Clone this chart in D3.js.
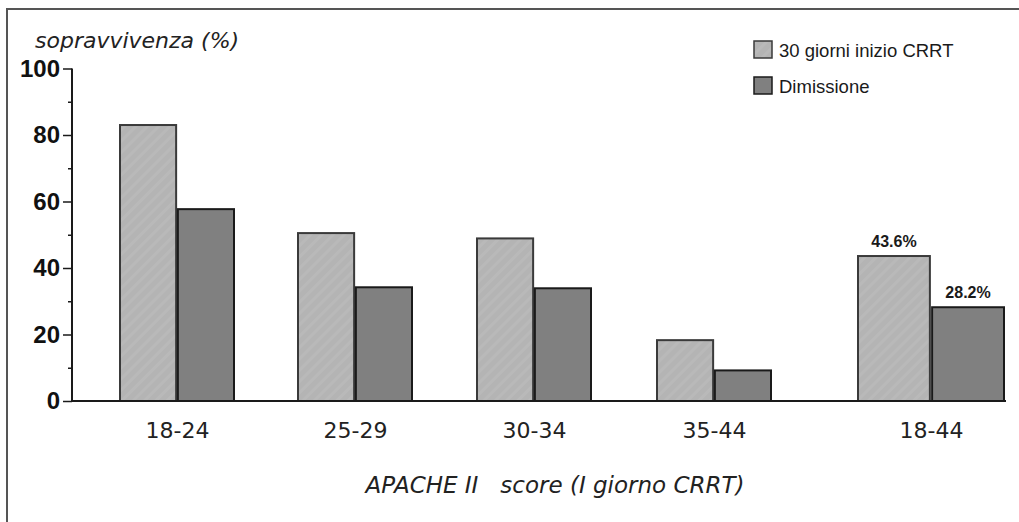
<!DOCTYPE html>
<html>
<head>
<meta charset="utf-8">
<script src="https://cdn.jsdelivr.net/npm/d3@7"></script>
<style>
  body { margin: 0; background: #fff; }
</style>
</head>
<body>
<svg id="chart"></svg>
<script>
// values
const categories = ["18-24", "25-29", "30-34", "35-44", "18-44"];
const seriesNames = ["30 giorni inizio CRRT", "Dimissione"];
const giorni30 = [83.0, 50.5, 48.9, 18.3, 43.6];
const dimissione = [57.7, 34.2, 33.9, 9.2, 28.2];
const yTicks = [0, 20, 40, 60, 80, 100];
const yMinorTicks = [10, 30, 50, 70, 90];
const labelledCategory = "18-44";

class SurvivalBarChart {

  constructor(_config, _data) {
    this.config = {
      parentElement: _config.parentElement,
      containerWidth: _config.containerWidth || 1019,
      containerHeight: _config.containerHeight || 522
    }
    this.data = _data;
    this.initVis();
  }

  initVis() {
    let vis = this;

    vis.svg = d3.select(vis.config.parentElement)
        .attr('width', vis.config.containerWidth)
        .attr('height', vis.config.containerHeight);

    // faint diagonal hatch on the light bars
    let pat = vis.svg.append('defs').append('pattern')
        .attr('id', 'hatch')
        .attr('patternUnits', 'userSpaceOnUse')
        .attr('width', 8).attr('height', 8)
        .attr('patternTransform', 'rotate(45)');
    pat.append('rect').attr('width', 8).attr('height', 8).attr('fill', '#b4b4b4');
    pat.append('rect').attr('width', 3).attr('height', 8).attr('fill', '#b9b9b9');

    // frame (only top and left edges are visible in the picture)
    vis.svg.append('rect')
        .attr('x', 7).attr('y', 9)
        .attr('width', 1030).attr('height', 530)
        .attr('fill', 'none')
        .attr('stroke', '#555')
        .attr('stroke-width', 2);

    vis.yScale = d3.scaleLinear()
        .domain([0, 100])
        .range([401, 68.5]);

    // group centres: first four evenly spaced, the total group set apart
    vis.xScale = d3.scaleOrdinal()
        .domain(categories)
        .range([177, 355, 534, 714, 931]);

    vis.groupWidth = d3.scaleOrdinal()
        .domain(categories)
        .range([114, 114, 114, 114, 146]);

    vis.colorScale = d3.scaleOrdinal()
        .domain(seriesNames)
        .range(['url(#hatch)', '#808080']);

    vis.strokeScale = d3.scaleOrdinal()
        .domain(seriesNames)
        .range(['#3a3a3a', '#1a1a1a']);

    vis.yAxis = d3.axisLeft(vis.yScale)
        .tickValues(yTicks)
        .tickSize(9)
        .tickPadding(3);

    vis.yMinorAxis = d3.axisLeft(vis.yScale)
        .tickValues(yMinorTicks)
        .tickSize(4)
        .tickFormat('');

    vis.xAxis = d3.axisBottom(vis.xScale)
        .tickSize(0)
        .tickPadding(21);

    vis.marks = vis.svg.append('g');
    vis.xAxisG = vis.svg.append('g').attr('class', 'axis x-axis')
        .attr('transform', `translate(0,${vis.yScale(0)})`);
    vis.yAxisG = vis.svg.append('g').attr('class', 'axis y-axis')
        .attr('transform', 'translate(72,0)');
    vis.yMinorG = vis.svg.append('g').attr('class', 'axis y-minor')
        .attr('transform', 'translate(72,0)');
  }

  updateVis() {
    let vis = this;
    vis.inner = d => d3.scaleBand()
        .domain(seriesNames)
        .range([vis.xScale(d) - vis.groupWidth(d) / 2, vis.xScale(d) + vis.groupWidth(d) / 2])
        .paddingInner(0.03);
    vis.renderVis();
  }

  renderVis() {
    let vis = this;

    let groups = vis.marks.selectAll('.group')
        .data(vis.data)
        .join('g')
        .attr('class', 'group');

    groups.selectAll('rect')
        .data(d => seriesNames.map((s, i) => ({cat: d.cat, series: s, value: d.values[i]})))
        .join('rect')
        .attr('x', d => vis.inner(d.cat)(d.series))
        .attr('width', d => vis.inner(d.cat).bandwidth())
        .attr('y', d => vis.yScale(d.value))
        .attr('height', d => vis.yScale(0) - vis.yScale(d.value))
        .attr('fill', d => vis.colorScale(d.series))
        .attr('stroke', d => vis.strokeScale(d.series))
        .attr('stroke-width', 2);

    // percentage labels on the overall group
    vis.marks.selectAll('.value-label')
        .data(vis.data.filter(d => d.cat === labelledCategory)
          .flatMap(d => seriesNames.map((s, i) => ({cat: d.cat, series: s, value: d.values[i]}))))
        .join('text')
        .attr('class', 'value-label')
        .attr('x', d => vis.inner(d.cat)(d.series) + vis.inner(d.cat).bandwidth() / 2)
        .attr('y', d => vis.yScale(d.value) - 9)
        .attr('text-anchor', 'middle')
        .attr('font-family', '"Liberation Sans", Arial, sans-serif')
        .attr('font-weight', 'bold')
        .attr('font-size', 16)
        .attr('fill', '#1a1a1a')
        .text(d => d.value.toFixed(1) + '%');

    // axes
    vis.xAxisG.call(vis.xAxis);
    vis.xAxisG.select('.domain').remove();
    vis.xAxisG.selectAll('text')
        .style('font-family', '"DejaVu Sans", Verdana, sans-serif')
        .style('font-size', '22px')
        .attr('fill', '#222');

    vis.svg.append('line')
        .attr('x1', 72).attr('x2', 1006)
        .attr('y1', vis.yScale(0)).attr('y2', vis.yScale(0))
        .attr('stroke', '#1a1a1a')
        .attr('stroke-width', 2);

    vis.yAxisG.call(vis.yAxis);
    vis.yAxisG.select('.domain').attr('stroke', '#1a1a1a').attr('stroke-width', 2)
        .attr('d', `M0,${vis.yScale(100)}V${vis.yScale(0)}`);
    vis.yAxisG.selectAll('.tick line').attr('stroke', '#1a1a1a').attr('stroke-width', 1.5);
    vis.yAxisG.selectAll('text')
        .style('font-family', '"Liberation Sans", Arial, sans-serif')
        .style('font-size', '24px')
        .style('font-weight', 'bold')
        .attr('fill', '#111');

    vis.yMinorG.call(vis.yMinorAxis);
    vis.yMinorG.select('.domain').remove();
    vis.yMinorG.selectAll('.tick line').attr('stroke', '#1a1a1a').attr('stroke-width', 1.5);

    // titles
    vis.svg.append('text')
        .attr('x', 35).attr('y', 48)
        .attr('font-family', '"DejaVu Sans", Verdana, sans-serif')
        .attr('font-style', 'italic')
        .attr('font-size', 22)
        .attr('fill', '#222')
        .text('sopravvivenza (%)');

    vis.svg.append('text')
        .attr('x', 555).attr('y', 493)
        .attr('text-anchor', 'middle')
        .attr('xml:space', 'preserve')
        .style('white-space', 'pre')
        .attr('font-family', '"DejaVu Sans", Verdana, sans-serif')
        .attr('font-style', 'italic')
        .attr('font-size', 23)
        .attr('fill', '#222')
        .text('APACHE II   score (I giorno CRRT)');

    // legend
    let legend = vis.svg.append('g').attr('class', 'legend')
        .selectAll('g')
        .data(seriesNames)
        .join('g')
        .attr('transform', (d, i) => `translate(754,${41 + i * 36})`);

    legend.append('rect')
        .attr('width', 18).attr('height', 17)
        .attr('fill', d => vis.colorScale(d))
        .attr('stroke', d => vis.strokeScale(d))
        .attr('stroke-width', 1.5);

    legend.append('text')
        .attr('x', 25).attr('y', 16)
        .attr('font-family', '"Liberation Sans", Arial, sans-serif')
        .attr('font-size', 18.5)
        .attr('fill', '#1a1a1a')
        .text(d => d);
  }
}

const tableData = categories.map((c, i) => ({cat: c, values: [giorni30[i], dimissione[i]]}));
const chart = new SurvivalBarChart({parentElement: '#chart'}, tableData);
chart.updateVis();
</script>
</body>
</html>
